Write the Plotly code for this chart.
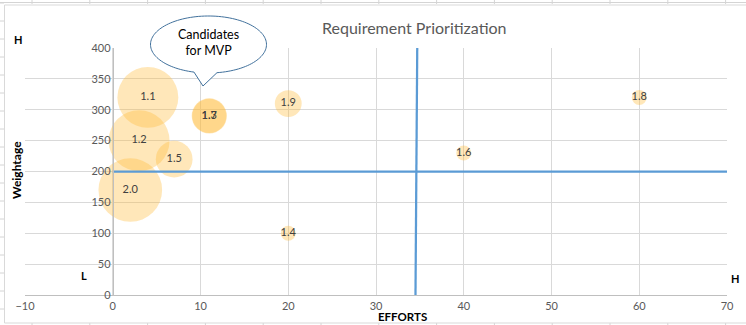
import plotly.graph_objects as go
import numpy as np

# ---- data ----
labels = ["2.0", "1.2", "1.1", "1.5", "1.3", "1.7", "1.9", "1.4", "1.6", "1.8"]
efforts = [2, 3, 4, 7, 11, 11, 20, 20, 40, 60]
weightage = [170, 250, 320, 220, 290, 290, 310, 100, 230, 320]
bubble_size = [18, 16.5, 16.5, 6, 5.5, 5.2, 3.2, 1, 1, 1]

h_line_x = [0, 70]
h_line_y = [200, 200]
v_line_x = [34.7, 34.5]
v_line_y = [400, 0]

x_ticks = [-10, 0, 10, 20, 30, 40, 50, 60, 70]
y_ticks = [0, 50, 100, 150, 200, 250, 300, 350, 400]

W, H = 746, 325
ML, MR, MT, MB = 25, 19, 48, 30
PW, PH = W - ML - MR, H - MT - MB

def fx(px):
    return (px - ML) / PW

def fy(py):
    return (H - MB - py) / PH

FONT = "Lato"

fig = go.Figure()

fig.add_trace(go.Scatter(
    x=efforts, y=weightage, mode="markers+text", text=labels,
    textposition="middle center",
    textfont=dict(family=FONT, size=11, color="#404040"),
    marker=dict(size=bubble_size, sizemode="area", sizeref=2 / 225,
                color="rgba(255,185,55,0.5)", line=dict(width=0)),
    hoverinfo="skip", showlegend=False, cliponaxis=False,
))
fig.add_trace(go.Scatter(x=h_line_x, y=h_line_y, mode="lines",
                         line=dict(color="#5B9BD5", width=2.25),
                         showlegend=False, hoverinfo="skip"))
fig.add_trace(go.Scatter(x=v_line_x, y=v_line_y, mode="lines",
                         line=dict(color="#5B9BD5", width=2.25),
                         showlegend=False, hoverinfo="skip"))

shapes = []
# spreadsheet cell lines outside the chart area
for k in range(14):
    cx = 32 + 57.8 * k
    shapes.append(dict(type="line", xref="paper", yref="paper",
                       x0=fx(cx), x1=fx(cx), y0=fy(0), y1=fy(4),
                       line=dict(color="#d4d4d4", width=1), layer="below"))
    shapes.append(dict(type="line", xref="paper", yref="paper",
                       x0=fx(cx), x1=fx(cx), y0=fy(323), y1=fy(325),
                       line=dict(color="#d4d4d4", width=1), layer="below"))
shapes.append(dict(type="line", xref="paper", yref="paper",
                   x0=fx(0), x1=fx(746), y0=fy(2.5), y1=fy(2.5),
                   line=dict(color="#d4d4d4", width=1), layer="below"))
for k in range(19):
    ry = 3 + 18 * k
    shapes.append(dict(type="line", xref="paper", yref="paper",
                       x0=fx(0), x1=fx(4), y0=fy(ry), y1=fy(ry),
                       line=dict(color="#d4d4d4", width=1), layer="below"))
# chart area border
shapes.append(dict(type="path", xref="paper", yref="paper",
                   path=f"M{fx(760)},{fy(5)} L{fx(4.5)},{fy(5)} L{fx(4.5)},{fy(323)} L{fx(760)},{fy(323)}",
                   line=dict(color="#d9d9d9", width=1), layer="below"))

# callout bubble
ecx, ecy, erx, ery = 208.5, 44.5, 58, 28.5
t0, t1 = np.deg2rad(104.5), np.deg2rad(81.6 + 360)
ts = np.linspace(t0, t1, 120)
pts = [(ecx + erx * np.cos(t), ecy + ery * np.sin(t)) for t in ts]
pts.append((203, 86))
path = "M" + " L".join(f"{fx(px):.5f},{fy(py):.5f}" for px, py in pts) + " Z"
shapes.append(dict(type="path", xref="paper", yref="paper", path=path,
                   fillcolor="white", line=dict(color="#41719C", width=1),
                   layer="above"))

def ann(text, px, py, size, color="#000000", angle=0):
    return dict(text=text, x=fx(px), y=fy(py), xref="paper", yref="paper",
                xanchor="center", yanchor="middle", textangle=angle,
                showarrow=False, font=dict(family=FONT, size=size, color=color))

annotations = [
    ann("Requirement Prioritization", 414, 28, 16, "#595959"),
    ann("Candidates<br>for MVP", 208, 42, 12.5),
    ann("<b>EFFORTS</b>", 402, 316.5, 11.5),
    ann("<b>Weightage</b>", 16, 170, 12, angle=-90),
    ann("<b>H</b>", 18, 39, 11),
    ann("<b>L</b>", 84, 275, 11),
    ann("<b>H</b>", 735, 278, 11),
]

fig.update_layout(
    width=W, height=H,
    margin=dict(l=ML, r=MR, t=MT, b=MB),
    paper_bgcolor="white", plot_bgcolor="white",
    shapes=shapes, annotations=annotations,
    xaxis=dict(range=[-10, 70], tickvals=x_ticks, showgrid=True, gridcolor="#d9d9d9",
               zeroline=False, showline=True, linecolor="#bfbfbf", linewidth=1,
               ticks="", ticklabelstandoff=1,
               tickfont=dict(family=FONT, size=11, color="#595959"),
               fixedrange=True),
    yaxis=dict(range=[0, 400], tickvals=y_ticks, showgrid=True, gridcolor="#d9d9d9",
               zeroline=False, showline=True, linecolor="#bfbfbf", linewidth=1,
               anchor="free", position=0.125, ticks="",
               tickfont=dict(family=FONT, size=11, color="#595959"),
               fixedrange=True),
)

fig.write_html("out.html")
